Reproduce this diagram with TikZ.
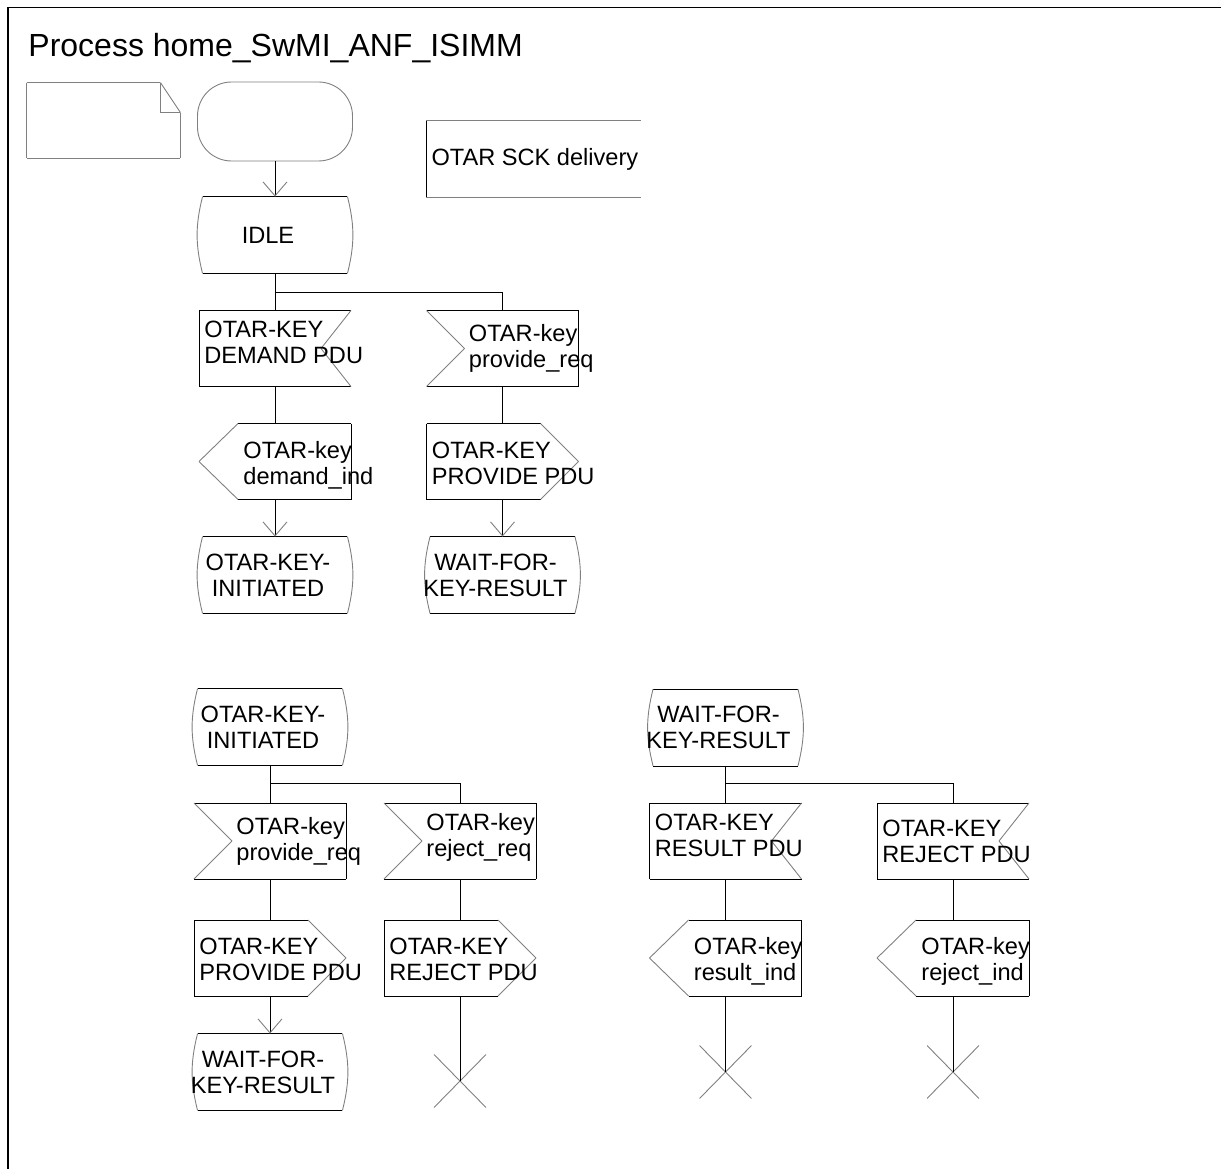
\documentclass[tikz,border=0pt]{standalone}
\usepackage{fontspec}
\setmainfont{Liberation Sans}
\usetikzlibrary{arrows.meta}

\colorlet{sdlgray}{black!50}
\def\labellift{0pt}

\tikzset{
  sdltext/.style={font=\fontsize{23.6}{26}\selectfont, align=left, inner sep=0pt, yshift=\labellift},
  lift/.code={\gdef\labellift{#1}},
  symbox/.style={lift=0pt, minimum width=152pt, minimum height=76pt, inner sep=0pt, outer sep=0pt},
  keep name/.style={append after command={\pgfextra{\xdef\symnode{\tikzlastnode}}}},
  % input, notch on the right
  inright/.style={symbox, keep name, append after command={
      (\symnode.north west) edge (\symnode.north east)
      (\symnode.north west) edge (\symnode.south west)
      (\symnode.south west) edge (\symnode.south east)
      (\symnode.north east) edge[sdlgray] ([xshift=-30pt]\symnode.east)
      ([xshift=-30pt]\symnode.east) edge[sdlgray] (\symnode.south east)},
    label={[sdltext, anchor=west, xshift=5pt]west:#1}},
  % input, notch on the left
  inleft/.style={symbox, keep name, append after command={
      (\symnode.north west) edge (\symnode.north east)
      (\symnode.north east) edge (\symnode.south east)
      (\symnode.south west) edge (\symnode.south east)
      (\symnode.north west) edge[sdlgray] ([xshift=38pt]\symnode.west)
      ([xshift=38pt]\symnode.west) edge[sdlgray] (\symnode.south west)},
    label={[sdltext, anchor=west, xshift=42pt]west:#1}},
  % output, point on the left
  outleft/.style={symbox, keep name, append after command={
      ([xshift=39pt]\symnode.north west) edge (\symnode.north east)
      (\symnode.north east) edge (\symnode.south east)
      ([xshift=39pt]\symnode.south west) edge (\symnode.south east)
      ([xshift=39pt]\symnode.north west) edge[sdlgray] (\symnode.west)
      (\symnode.west) edge[sdlgray] ([xshift=39pt]\symnode.south west)},
    label={[sdltext, anchor=west, xshift=44pt, yshift=-3.5pt]west:#1}},
  % output, point on the right
  outright/.style={symbox, keep name, append after command={
      (\symnode.north west) edge ([xshift=-38pt]\symnode.north east)
      (\symnode.north west) edge (\symnode.south west)
      (\symnode.south west) edge ([xshift=-38pt]\symnode.south east)
      ([xshift=-38pt]\symnode.north east) edge[sdlgray] (\symnode.east)
      (\symnode.east) edge[sdlgray] ([xshift=-38pt]\symnode.south east)},
    label={[sdltext, anchor=west, xshift=5pt, yshift=-1.5pt]west:#1}},
  statesym/.style={lift=0pt, minimum width=154pt, minimum height=76pt, inner sep=0pt, keep name,
    append after command={
      ([xshift=5pt]\symnode.north west) edge ([xshift=-5pt]\symnode.north east)
      ([xshift=5pt]\symnode.south west) edge ([xshift=-5pt]\symnode.south east)
      ([xshift=-5pt]\symnode.north east) edge[sdlgray, bend left=14] ([xshift=-5pt]\symnode.south east)
      ([xshift=5pt]\symnode.south west) edge[sdlgray, bend left=14] ([xshift=5pt]\symnode.north west)},
    label={[sdltext, align=center, xshift=-7pt]center:#1}},
  startsym/.style={draw=sdlgray, rounded corners=34pt, minimum width=155pt, minimum height=79pt, inner sep=0pt},
  notesym/.style={minimum width=153pt, minimum height=75pt, inner sep=0pt, keep name,
    append after command={
      (\symnode.north west) edge[sdlgray] ([xshift=-20pt]\symnode.north east)
      (\symnode.north west) edge[sdlgray] (\symnode.south west)
      (\symnode.south west) edge[sdlgray] (\symnode.south east)
      (\symnode.south east) edge[sdlgray] ([yshift=-30pt]\symnode.north east)
      ([xshift=-20pt]\symnode.north east) edge[sdlgray] ([xshift=-20pt,yshift=-30pt]\symnode.north east)
      ([xshift=-20pt,yshift=-30pt]\symnode.north east) edge[sdlgray] ([yshift=-30pt]\symnode.north east)
      ([xshift=-20pt]\symnode.north east) edge[sdlgray] ([yshift=-30pt]\symnode.north east)}},
  procsym/.style={lift=0pt, minimum width=214pt, minimum height=76pt, inner sep=0pt, keep name,
    append after command={
      (\symnode.north east) edge[sdlgray] (\symnode.north west)
      (\symnode.north west) edge (\symnode.south west)
      (\symnode.south west) edge[sdlgray] (\symnode.south east)},
    label={[sdltext, anchor=west, xshift=5pt]west:#1}},
  stopsym/.style={minimum width=51pt, minimum height=52pt, inner sep=0pt, keep name,
    append after command={
      (\symnode.north west) edge[sdlgray] (\symnode.south east)
      (\symnode.north east) edge[sdlgray] (\symnode.south west)}},
  flow/.style={-{Straight Barb[length=14pt, width=24pt, color=sdlgray]}}
}

\begin{document}
\begin{tikzpicture}[x=1pt, y=-1pt, line width=0.9pt]
\useasboundingbox (0,0) rectangle (1221,1169);
\draw[line width=1.6pt] (8,1180) -- (8,7.5) -- (1230,7.5);

\node[anchor=base west, inner sep=0pt, font=\fontsize{32}{36}\selectfont] (title) at (28,57) {Process home\_SwMI\_ANF\_ISIMM};

% upper part
\node[notesym] (note) at (103.5,120.5) {};
\node[startsym] (start) at (275,121.5) {};
\node[procsym={OTAR SCK delivery}] (header) at (533.5,159) {};
\node[statesym=IDLE] (idle) at (275,235) {};
\node[inright={OTAR-KEY\\DEMAND PDU}, lift=6pt] (demandpdu) at (275,348.5) {};
\node[inleft={OTAR-key\\provide\_req}] (providereq) at (502.5,348.5) {};
\node[outleft={OTAR-key\\demand\_ind}] (demandind) at (275,461.5) {};
\node[outright={OTAR-KEY\\PROVIDE PDU}] (providepdu) at (502.5,461.5) {};
\node[statesym={OTAR-KEY-\\INITIATED}] (initiated) at (275,575) {};
\node[statesym={WAIT-FOR-\\KEY-RESULT}] (waitresult) at (502.5,575) {};

\draw[flow] (start) -- (idle);
\draw (idle.south) -- (demandpdu.north);
\draw (idle.south) ++(0,19) -| (providereq.north);
\draw (demandpdu) -- (demandind);
\draw[flow] (demandind) -- (initiated);
\draw (providereq) -- (providepdu);
\draw[flow] (providepdu) -- (waitresult);

% lower left part
\node[statesym={OTAR-KEY-\\INITIATED}] (initiated2) at (270,727) {};
\node[inleft={OTAR-key\\provide\_req}] (providereq2) at (270,841) {};
\node[inleft={OTAR-key\\reject\_req}, lift=4pt] (rejectreq) at (460,841) {};
\node[outright={OTAR-KEY\\PROVIDE PDU}] (providepdu2) at (270,958) {};
\node[outright={OTAR-KEY\\REJECT PDU}] (rejectpdu) at (460,958) {};
\node[statesym={WAIT-FOR-\\KEY-RESULT}] (waitresult2) at (270,1072) {};
\node[stopsym] (stop1) at (460,1081) {};

\draw (initiated2.south) -- (providereq2.north);
\draw (initiated2.south) ++(0,18) -| (rejectreq.north);
\draw (providereq2) -- (providepdu2);
\draw[flow] (providepdu2) -- (waitresult2);
\draw (rejectreq) -- (rejectpdu);
\draw (rejectpdu.south) -- (stop1.center);

% lower right part
\node[statesym={WAIT-FOR-\\KEY-RESULT}] (waitresult3) at (725.5,727.5) {};
\node[inright={OTAR-KEY\\RESULT PDU}, lift=6pt] (resultpdu) at (725.5,841) {};
\node[inright={OTAR-KEY\\REJECT PDU}] (rejectpdu2) at (953,841) {};
\node[outleft={OTAR-key\\result\_ind}] (resultind) at (725.5,958) {};
\node[outleft={OTAR-key\\reject\_ind}] (rejectind) at (953,958) {};
\node[stopsym] (stop2) at (725.5,1072) {};
\node[stopsym] (stop3) at (953,1072) {};

\draw (waitresult3.south) -- (resultpdu.north);
\draw (waitresult3.south) ++(0,17.5) -| (rejectpdu2.north);
\draw (resultpdu) -- (resultind);
\draw (resultind.south) -- (stop2.center);
\draw (rejectpdu2) -- (rejectind);
\draw (rejectind.south) -- (stop3.center);
\end{tikzpicture}
\end{document}
